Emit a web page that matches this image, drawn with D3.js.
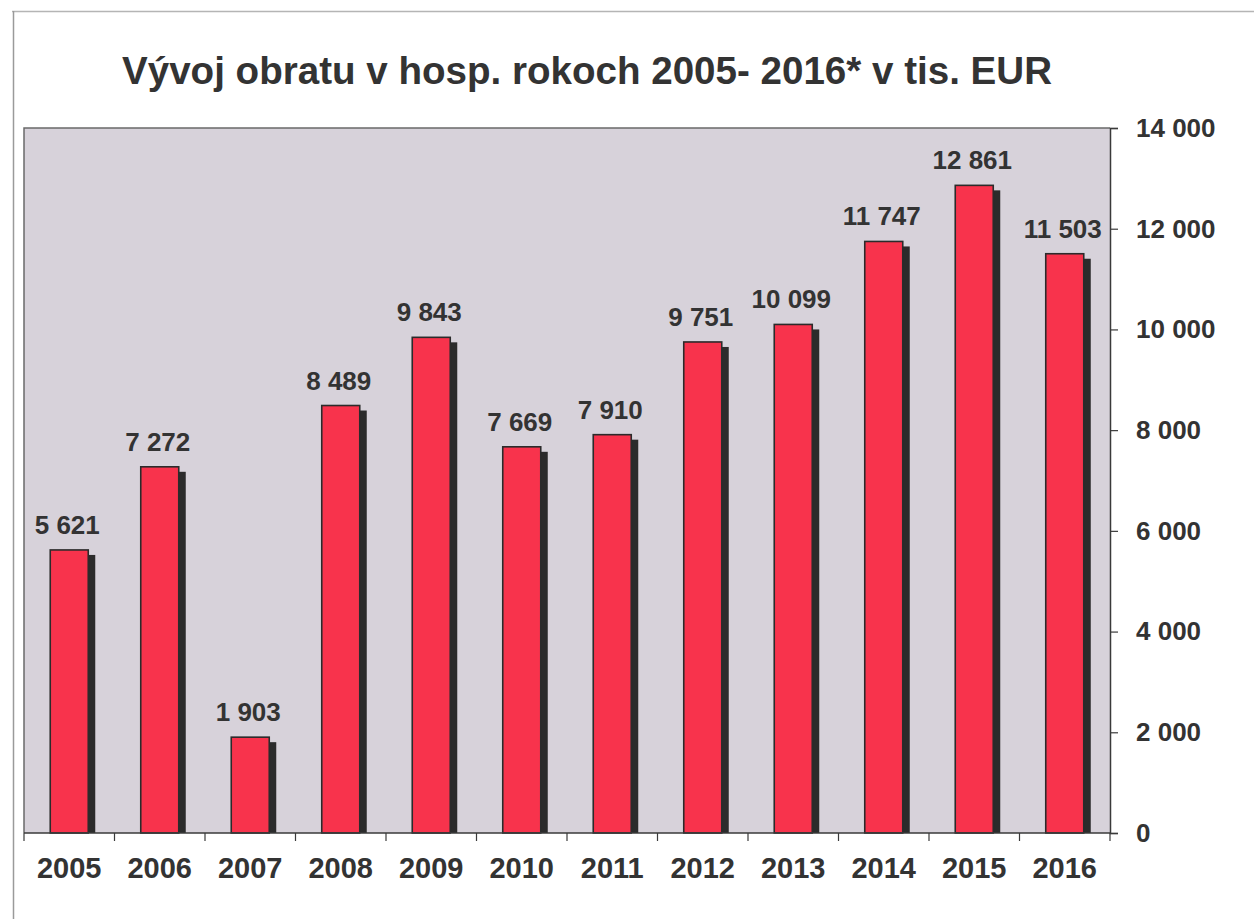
<!DOCTYPE html>
<html>
<head>
  <meta charset="utf-8">
  <title>Vývoj obratu</title>
  <script src="https://cdn.jsdelivr.net/npm/d3@7"></script>
  <style>
    body { margin: 0; background: #fff; }
    text { font-family: "Liberation Sans", Arial, sans-serif; font-weight: bold; fill: #333; }
  </style>
</head>
<body>
  <svg width="1254" height="919" id="mainsvg"></svg>
  <script>
      // data
      const years = ['2005', '2006', '2007', '2008', '2009', '2010', '2011', '2012', '2013', '2014', '2015', '2016'];
      const turnover = [5621, 7272, 1903, 8489, 9843, 7669, 7910, 9751, 10099, 11747, 12861, 11503];
      const yTicks = [0, 2000, 4000, 6000, 8000, 10000, 12000, 14000];
      const titleText = 'Vývoj obratu v hosp. rokoch 2005- 2016* v tis. EUR';

      const svg = d3.select('svg');
      const margin = {top: 128, right: 144, bottom: 86, left: 24};
      const width = +svg.attr('width'), height = +svg.attr('height');
      const innerWidth = width - margin.left - margin.right;
      const innerHeight = height - margin.top - margin.bottom;
      const fmt = v => d3.format(',')(v).replace(/,/g, ' ');

      // page frame
      svg.append('line').attr('x1', 12).attr('x2', width).attr('y1', 11.5).attr('y2', 11.5)
        .attr('stroke', '#b5b5b5').attr('stroke-width', 1.5);
      svg.append('line').attr('x1', 13.5).attr('x2', 13.5).attr('y1', 11).attr('y2', height)
        .attr('stroke', '#9a9a9a').attr('stroke-width', 1.5);

      svg.append('text').attr('x', 587).attr('y', 84).attr('text-anchor', 'middle')
        .attr('font-size', 38).attr('textLength', 930).attr('lengthAdjust', 'spacingAndGlyphs')
        .text(titleText);

      const g = svg.append('g').attr('transform', `translate(${margin.left}, ${margin.top})`);

      const xScale = d3.scaleBand().domain(years).range([0, innerWidth]).padding(0);
      const yScale = d3.scaleLinear().domain([0, 14000]).range([innerHeight, 0]);

      // plot area
      g.append('rect').attr('width', innerWidth).attr('height', innerHeight).attr('fill', '#d7d2da');
      g.append('path').attr('d', `M0,${innerHeight}V0H${innerWidth}`)
        .attr('fill', 'none').attr('stroke', '#6a6a6a').attr('stroke-width', 1.5);

      const barW = 38, shX = 7, shY = 5;
      const bars = g.selectAll('.bar').data(years).join('g').attr('class', 'bar');
      bars.append('rect')
        .attr('x', (d) => xScale(d) + xScale.bandwidth() / 2 - barW / 2 + shX)
        .attr('y', (d, i) => yScale(turnover[i]) + shY)
        .attr('width', barW)
        .attr('height', (d, i) => innerHeight - yScale(turnover[i]) - shY)
        .attr('fill', '#2b2b2b');
      bars.append('rect')
        .attr('x', (d) => xScale(d) + xScale.bandwidth() / 2 - barW / 2)
        .attr('y', (d, i) => yScale(turnover[i]))
        .attr('width', barW)
        .attr('height', (d, i) => innerHeight - yScale(turnover[i]))
        .attr('fill', '#f8334c').attr('stroke', '#2b2b2b').attr('stroke-width', 1.6);
      bars.append('text')
        .attr('x', (d) => xScale(d) + xScale.bandwidth() / 2 - 2)
        .attr('y', (d, i) => yScale(turnover[i]) - 16)
        .attr('text-anchor', 'middle').attr('font-size', 26)
        .text((d, i) => fmt(turnover[i]));

      // x axis: ticks at the band edges
      const xAxisG = g.append('g').attr('transform', `translate(0, ${innerHeight})`);
      xAxisG.append('line').attr('x1', 0).attr('x2', innerWidth).attr('stroke', '#3a3a3a').attr('stroke-width', 1.5);
      xAxisG.selectAll('.edge').data(years.concat(['end'])).join('line')
        .attr('x1', (d, i) => i * xScale.step()).attr('x2', (d, i) => i * xScale.step())
        .attr('y1', 0).attr('y2', 8).attr('stroke', '#3a3a3a').attr('stroke-width', 1.2);
      xAxisG.selectAll('.lbl').data(years).join('text')
        .attr('x', d => xScale(d) + xScale.bandwidth() / 2).attr('y', 45)
        .attr('text-anchor', 'middle').attr('font-size', 29).text(d => d);

      // y axis on the right
      const yAxis = d3.axisRight(yScale).tickValues(yTicks).tickSize(8).tickFormat(fmt);
      const yAxisG = g.append('g').attr('transform', `translate(${innerWidth}, 0)`).call(yAxis);
      yAxisG.select('.domain').attr('stroke', '#3a3a3a').attr('stroke-width', 1.5);
      yAxisG.selectAll('.tick line').attr('stroke', '#3a3a3a').attr('stroke-width', 1.2);
      yAxisG.selectAll('.tick text').attr('x', 26).attr('font-size', 26)
        .attr('font-family', '"Liberation Sans", Arial, sans-serif').attr('fill', '#333');
  </script>
</body>
</html>
